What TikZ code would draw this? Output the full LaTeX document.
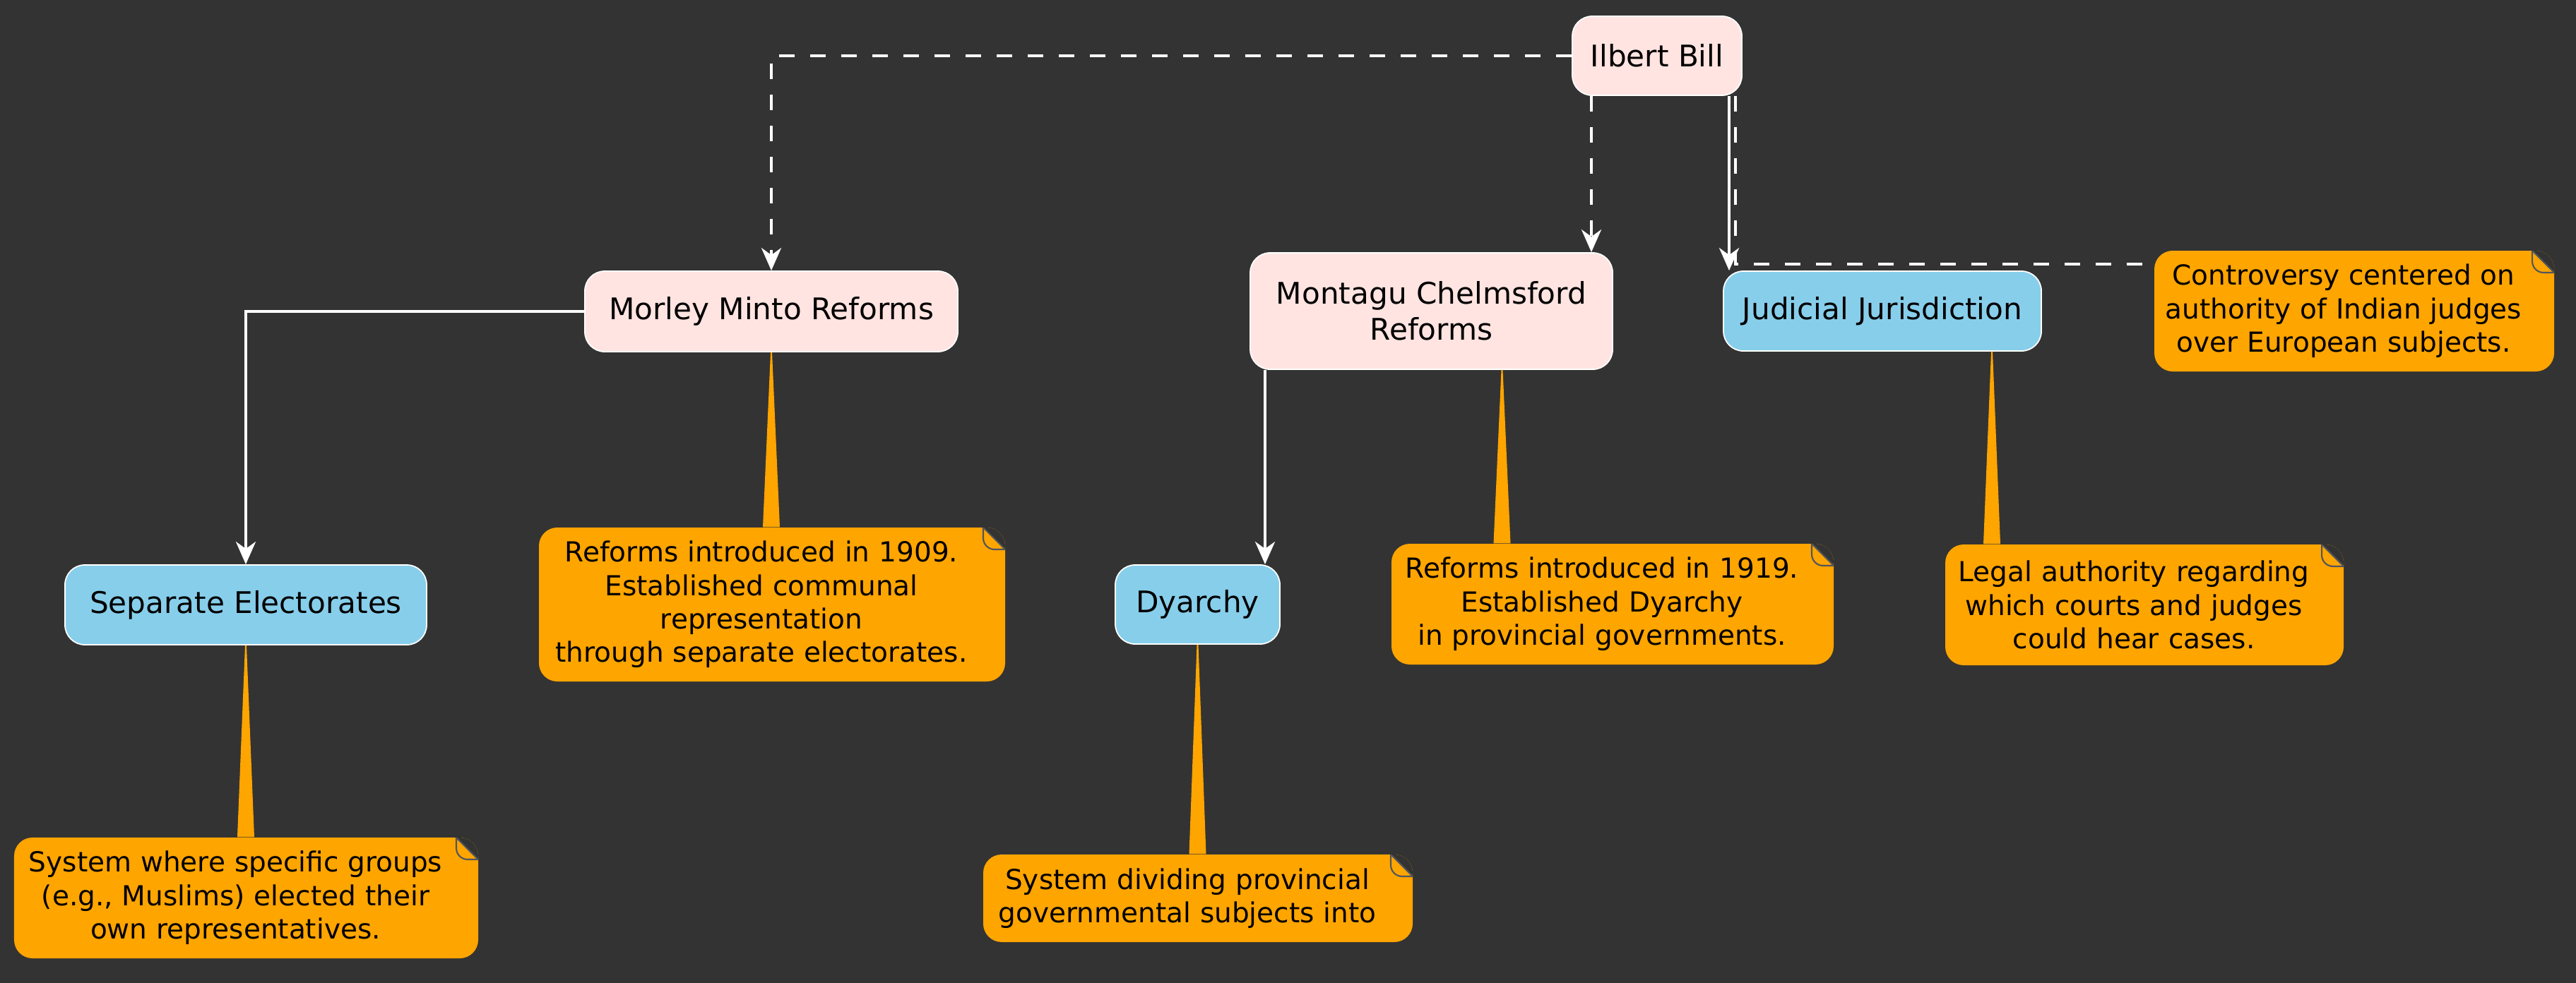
\documentclass[tikz,border=0pt]{standalone}
\usepackage{fontspec}
\setmainfont{DejaVu Sans}
\usetikzlibrary{arrows.meta}
\definecolor{fondo}{HTML}{333333}
\definecolor{rosaClaro}{HTML}{FFE4E1}
\definecolor{azulCielo}{HTML}{87CEEB}
\definecolor{naranja}{HTML}{FFA500}
\definecolor{bordeNota}{HTML}{50555C}
\newcommand{\topicfont}{\fontsize{12}{14.5}\selectfont}
\newcommand{\memofont}{\fontsize{11.1}{13.5}\selectfont}

\tikzset{
  topic/.style={draw=white,line width=0.5pt,fill=rosaClaro,rounded corners=0.28cm,
    align=center,font=\topicfont,inner sep=0pt},
  concept/.style={topic,fill=azulCielo},
  memo/.style={fill=naranja,rounded corners=0.26cm,align=center,font=\memofont,inner sep=0pt,
    execute at begin node={\advance\rightskip by 0.3cm},
    path picture={
      \fill[fondo,sharp corners] ([xshift=-0.31cm]path picture bounding box.north east)
        -- ([shift={(0.1cm,0.1cm)}]path picture bounding box.north east)
        -- ([yshift=-0.31cm]path picture bounding box.north east) -- cycle;
      \draw[bordeNota,line width=0.6pt,sharp corners] ([xshift=-0.31cm]path picture bounding box.north east)
        -- ++(0,-0.15) arc[start angle=180,end angle=270,radius=0.16] -- ++(0.15,0);
      \draw[bordeNota,line width=0.6pt,sharp corners] ([xshift=-0.31cm]path picture bounding box.north east)
        -- ([yshift=-0.31cm]path picture bounding box.north east);
    }},
  link/.style={draw=white,line width=1.3pt,-{Stealth[length=0.32cm,width=0.28cm,inset=0.1cm]}},
  dashlink/.style={link,dash pattern=on 0.22cm off 0.22cm},
  memolink/.style={draw=white,line width=1.3pt,dash pattern=on 0.22cm off 0.22cm},
  tail/.style={fill=naranja}
}

\begin{document}
\begin{tikzpicture}
    \useasboundingbox (0,0) rectangle (36.47,-13.91);
    \fill[fondo] (-0.2,0.2) rectangle (36.67,-14.11);

    % main topics
    \node[topic,minimum width=2.40cm,minimum height=1.12cm] (ilbert) at (23.46,-0.79) {Ilbert Bill};
    \node[topic,minimum width=5.28cm,minimum height=1.14cm] (morley) at (10.92,-4.41) {Morley Minto Reforms};
    \node[topic,minimum width=5.13cm,minimum height=1.65cm] (montagu) at (20.265,-4.405) {Montagu Chelmsford\\Reforms};
    \node[concept,minimum width=4.50cm,minimum height=1.13cm] (judicial) at (26.65,-4.405) {Judicial Jurisdiction};
    \node[concept,minimum width=5.12cm,minimum height=1.13cm] (sepel) at (3.48,-8.565) {Separate Electorates};
    \node[concept,minimum width=2.33cm,minimum height=1.12cm] (dyarchy) at (16.955,-8.56) {Dyarchy};

    % notes
    \node[memo,text width=5.66cm,minimum height=1.71cm] (ibnote) at (33.33,-4.405)
      {Controversy centered on\\authority of Indian judges\\over European subjects.};
    \node[memo,text width=6.60cm,minimum height=2.18cm] (mmnote) at (10.93,-8.56)
      {Reforms introduced in 1909.\\Established communal\\representation\\through separate electorates.};
    \node[memo,text width=6.26cm,minimum height=1.71cm] (mcnote) at (22.83,-8.555)
      {Reforms introduced in 1919.\\Established Dyarchy\\in provincial governments.};
    \node[memo,text width=5.64cm,minimum height=1.71cm] (jjnote) at (30.36,-8.565)
      {Legal authority regarding\\which courts and judges\\could hear cases.};
    \node[memo,text width=6.57cm,minimum height=1.71cm] (sepnote) at (3.485,-12.715)
      {System where specific groups\\(e.g., Muslims) elected their\\own representatives.};
    \node[memo,text width=6.08cm,minimum height=1.24cm] (dynote) at (16.96,-12.72)
      {System dividing provincial\\governmental subjects into};

    % note tails
    \fill[tail] ([xshift=-0.01cm]morley.south) -- ([xshift=0.01cm]morley.south)
      -- ([xshift=0.12cm]morley.south |- mmnote.north) -- ([xshift=-0.12cm]morley.south |- mmnote.north) -- cycle;
    \fill[tail] ([xshift=0.99cm]montagu.south) -- ([xshift=1.01cm]montagu.south)
      -- ([xshift=1.12cm]montagu.south |- mcnote.north) -- ([xshift=0.88cm]montagu.south |- mcnote.north) -- cycle;
    \fill[tail] ([xshift=1.54cm]judicial.south) -- ([xshift=1.56cm]judicial.south)
      -- ([xshift=1.67cm]judicial.south |- jjnote.north) -- ([xshift=1.43cm]judicial.south |- jjnote.north) -- cycle;
    \fill[tail] ([xshift=-0.01cm]sepel.south) -- ([xshift=0.01cm]sepel.south)
      -- ([xshift=0.12cm]sepel.south |- sepnote.north) -- ([xshift=-0.12cm]sepel.south |- sepnote.north) -- cycle;
    \fill[tail] ([xshift=-0.01cm]dyarchy.south) -- ([xshift=0.01cm]dyarchy.south)
      -- ([xshift=0.12cm]dyarchy.south |- dynote.north) -- ([xshift=-0.12cm]dyarchy.south |- dynote.north) -- cycle;

    % connectors
    \draw[dashlink] (ilbert.west) -| (morley.north);
    \draw[dashlink] ([xshift=-0.93cm]ilbert.south) -- ([xshift=-0.93cm]ilbert.south |- montagu.north);
    \draw[link] ([xshift=1.02cm]ilbert.south) -- ([xshift=1.02cm]ilbert.south |- judicial.north);
    \draw[memolink] ([xshift=1.11cm]ilbert.south) |- ([yshift=0.665cm]ibnote.west);
    \draw[link] (morley.west) -| (sepel.north);
    \draw[link] ([xshift=-2.355cm]montagu.south) -- ([xshift=-2.355cm]montagu.south |- dyarchy.north);
\end{tikzpicture}
\end{document}
